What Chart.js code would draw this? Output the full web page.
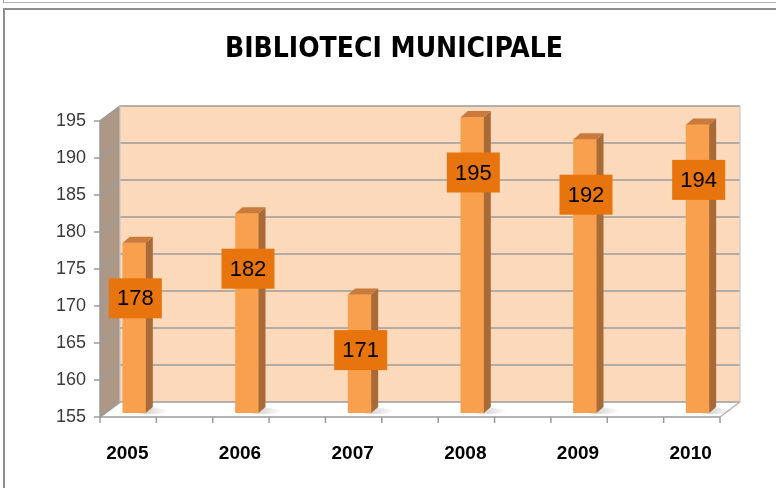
<!DOCTYPE html>
<html>
<head>
<meta charset="utf-8">
<title>Biblioteci municipale</title>
<script src="https://cdn.jsdelivr.net/npm/chart.js@4.4.1/dist/chart.umd.min.js"></script>
<style>
    body { margin: 0; background: #fff; overflow: hidden; }
    #wrap { position: absolute; left: 0; top: 0; width: 776px; height: 488px; }
    .frame-top { position: absolute; left: 3px; top: 0; width: 800px; height: 2px; border-left: 1px solid #9a9a9a; border-bottom: 1px solid #b0b0b0; }
    .frame { position: absolute; left: 3px; top: 8px; width: 800px; height: 500px; border: 2px solid #8e8e8e; }
</style>
</head>
<body>
<div class="frame-top"></div>
<div class="frame"></div>
<div id="wrap"><canvas id="chart" width="776" height="488"></canvas></div>

<script>
// --- Data ---
const years = ['2005', '2006', '2007', '2008', '2009', '2010'];
const libraries = [178, 182, 171, 195, 192, 194];
const yTicks = [155, 160, 165, 170, 175, 180, 185, 190, 195];
const chartTitle = 'BIBLIOTECI MUNICIPALE';

// --- Colors ---
const WALL = '#fcd9bb';
const SIDE_WALL = '#ad9785';
const GRID = '#9c9c9c';
const BAR_FRONT = '#f9a04f';
const BAR_SIDE = '#a96a37';
const BAR_TOP = '#c87b3c';
const LABEL_BOX = '#e8740e';

// profondeur 3D (front -> back)
const DEPTH_X = 20, DEPTH_Y = -15;
const BAR_DX = 7, BAR_DY = -6;

// position d'une barre, base coupee au bas de l'axe (min 155)
const barBox = (chart, bar) => {
    const p = bar.getProps(['x', 'y', 'base', 'width'], true);
    p.base = Math.min(p.base, chart.scales.y.getPixelForValue(yTicks[0]));
    return p;
};

// Dessine les murs, la grille et les axes "3D" autour de la zone du graphique
const box3d = {
    id: 'box3d',
    beforeDatasetsDraw(chart) {
        const { ctx, chartArea: a, scales: { y } } = chart;
        const fy = v => y.getPixelForValue(v) + 4;      // plan avant
        const by = v => fy(v) + DEPTH_Y;                // mur du fond
        const fx0 = a.left + 22, fx1 = a.right - 34;
        const bx0 = fx0 + DEPTH_X, bx1 = fx1 + DEPTH_X;
        const lo = yTicks[0], hi = yTicks[yTicks.length - 1];

        ctx.save();
        // mur du fond
        ctx.fillStyle = WALL;
        ctx.fillRect(bx0, by(hi), bx1 - bx0, by(lo) - by(hi));
        // mur gauche
        ctx.fillStyle = SIDE_WALL;
        ctx.beginPath();
        ctx.moveTo(fx0, fy(hi)); ctx.lineTo(bx0, by(hi));
        ctx.lineTo(bx0, by(lo)); ctx.lineTo(fx0, fy(lo));
        ctx.closePath(); ctx.fill();
        // sol
        ctx.fillStyle = '#ffffff';
        ctx.beginPath();
        ctx.moveTo(fx0, fy(lo)); ctx.lineTo(bx0, by(lo));
        ctx.lineTo(bx1, by(lo)); ctx.lineTo(fx1, fy(lo));
        ctx.closePath(); ctx.fill();

        // grille
        ctx.strokeStyle = GRID;
        ctx.lineWidth = 1.6;
        yTicks.forEach(v => {
            ctx.beginPath();
            ctx.moveTo(fx0, fy(v)); ctx.lineTo(bx0, by(v)); ctx.lineTo(bx1, by(v));
            ctx.stroke();
        });
        ctx.strokeStyle = '#c8c8c8';
        ctx.lineWidth = 1.2;
        ctx.beginPath();
        ctx.moveTo(bx0, by(lo)); ctx.lineTo(bx0, by(hi));
        ctx.moveTo(bx1, by(hi)); ctx.lineTo(bx1, by(lo));
        ctx.stroke();

        // bord du sol
        ctx.strokeStyle = '#b4b4b4';
        ctx.lineWidth = 1.5;
        ctx.beginPath();
        ctx.moveTo(fx1, fy(lo)); ctx.lineTo(bx1, by(lo));
        ctx.stroke();

        // axes avant
        ctx.strokeStyle = '#9a9a9a';
        ctx.lineWidth = 1.5;
        ctx.beginPath();
        ctx.moveTo(fx0, fy(hi)); ctx.lineTo(fx0, fy(lo)); ctx.lineTo(fx1, fy(lo));
        yTicks.forEach(v => { ctx.moveTo(fx0 - 6, fy(v)); ctx.lineTo(fx0, fy(v)); });
        const n = years.length * 2 - 1;
        for (let i = 0; i <= n; i++) {
            const x = fx0 + (fx1 - fx0) * i / n;
            ctx.moveTo(x, fy(lo)); ctx.lineTo(x, fy(lo) + 6);
        }
        ctx.stroke();

        // etiquettes axe Y
        ctx.fillStyle = '#3a3a3a';
        ctx.font = '18px "Liberation Sans", Arial, sans-serif';
        ctx.textAlign = 'right';
        ctx.textBaseline = 'middle';
        yTicks.forEach(v => ctx.fillText(String(v), fx0 - 14, fy(v)));

        // ombres des barres sur le sol
        const meta = chart.getDatasetMeta(0);
        meta.data.forEach(el => {
            const bar = barBox(chart, el);
            const g = ctx.createLinearGradient(bar.x, 0, bar.x + bar.width / 2 + 24, 0);
            g.addColorStop(0, 'rgba(120,120,120,0.45)');
            g.addColorStop(1, 'rgba(120,120,120,0)');
            ctx.fillStyle = g;
            ctx.beginPath();
            ctx.ellipse(bar.x + bar.width / 2 + 4, bar.base - 2, 18, 3, 0, 0, Math.PI * 2);
            ctx.fill();
        });

        // titre
        ctx.fillStyle = '#000';
        ctx.font = 'bold 28px "Liberation Sans Narrow", "DejaVu Sans Condensed", sans-serif';
        ctx.textAlign = 'center';
        ctx.fillText(chartTitle, 394, 50);

        // etiquettes axe X
        ctx.font = 'bold 19px "Liberation Sans", Arial, sans-serif';
        meta.data.forEach((el, i) => ctx.fillText(years[i], barBox(chart, el).x - 7, 454));
        ctx.restore();
    },
    afterDatasetsDraw(chart) {
        const { ctx, scales: { y } } = chart;
        const meta = chart.getDatasetMeta(0);
        ctx.save();
        meta.data.forEach(el => {
            const bar = barBox(chart, el);
            const l = bar.x - bar.width / 2, r = bar.x + bar.width / 2;
            // face laterale
            ctx.fillStyle = BAR_SIDE;
            ctx.beginPath();
            ctx.moveTo(r, bar.y); ctx.lineTo(r + BAR_DX, bar.y + BAR_DY);
            ctx.lineTo(r + BAR_DX, bar.base + BAR_DY); ctx.lineTo(r, bar.base);
            ctx.closePath(); ctx.fill();
            // dessus
            ctx.fillStyle = BAR_TOP;
            ctx.beginPath();
            ctx.moveTo(l, bar.y); ctx.lineTo(l + BAR_DX, bar.y + BAR_DY);
            ctx.lineTo(r + BAR_DX, bar.y + BAR_DY); ctx.lineTo(r, bar.y);
            ctx.closePath(); ctx.fill();
        });
        // etiquettes de valeur
        meta.data.forEach((el, i) => {
            const cx = barBox(chart, el).x + 1;
            const cy = y.getPixelForValue(libraries[i] - 7.5);
            ctx.fillStyle = LABEL_BOX;
            ctx.fillRect(cx - 26.5, cy - 20, 53, 40);
            ctx.fillStyle = '#000';
            ctx.font = '22px "Liberation Sans", Arial, sans-serif';
            ctx.textAlign = 'center';
            ctx.textBaseline = 'middle';
            ctx.fillText(String(libraries[i]), cx, cy + 1);
        });
        ctx.restore();
    }
};

new Chart(document.getElementById('chart'), {
    type: 'bar',
    data: {
        labels: years,
        datasets: [{ data: libraries, backgroundColor: BAR_FRONT, barThickness: 23, borderWidth: 0 }]
    },
    options: {
        responsive: false,
        animation: false,
        layout: { padding: { left: 78, right: 22, top: 117, bottom: 75 } },
        plugins: { legend: { display: false }, title: { display: false }, tooltip: { enabled: false } },
        scales: {
            x: { display: false },
            y: { display: false, min: yTicks[0], max: yTicks[yTicks.length - 1], ticks: { stepSize: 5 } }
        }
    },
    plugins: [box3d]
});
</script>
</body>
</html>
